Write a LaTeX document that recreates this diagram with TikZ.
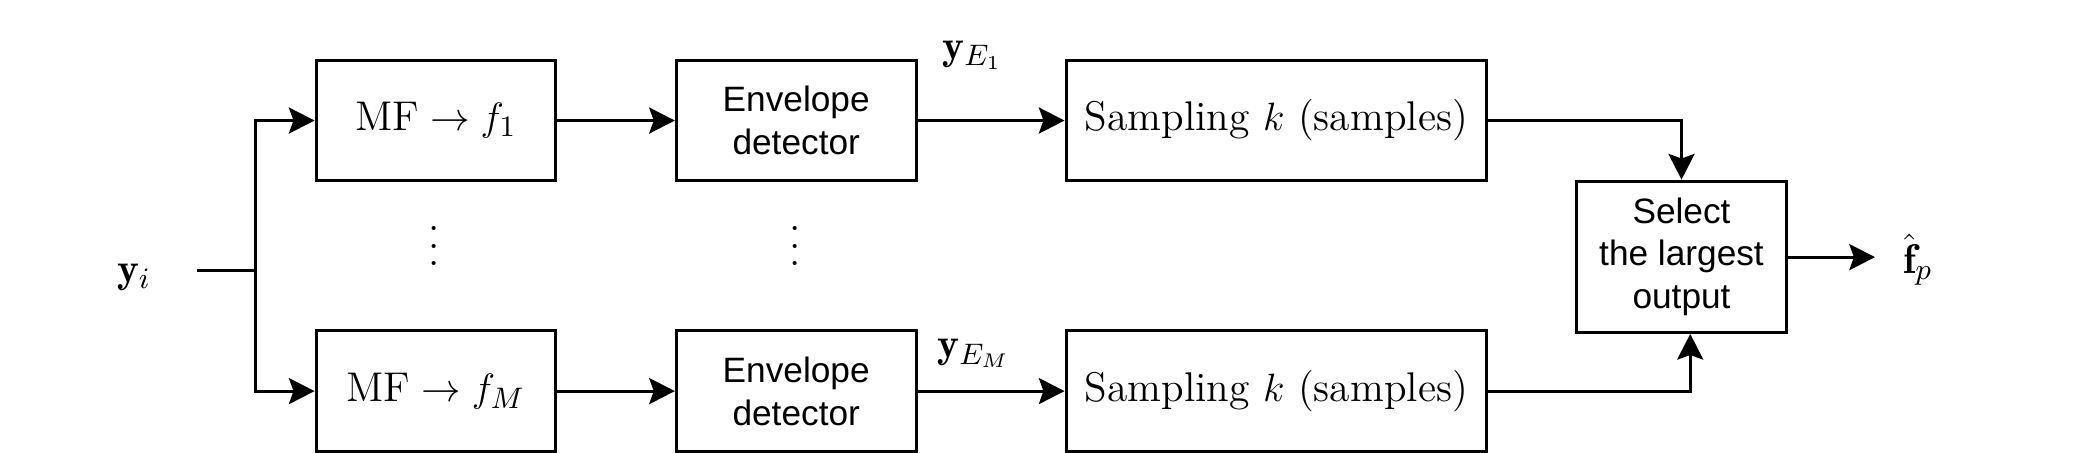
\documentclass[tikz,border=0pt]{standalone}
\usepackage{amsmath,amssymb}
\usepackage{fontspec}
\usepackage{tikz}
\usetikzlibrary{arrows.meta}
\newfontfamily\arialfont{Liberation Sans}
\newcommand{\boxfont}{\arialfont\fontsize{10.7}{13}\selectfont}
\newcommand{\eqfont}{\fontsize{12.6}{15}\selectfont}
\newcommand{\tallvdots}{\vbox{\baselineskip5.3pt\lineskiplimit0pt\hbox{.}\hbox{.}\hbox{.}}}

\begin{document}
\begin{tikzpicture}[x=1cm,y=1cm,font=\eqfont,
  blk/.style={draw,line width=.9pt,minimum height=1.286cm,inner sep=0pt,align=center},
  wire/.style={line width=.9pt},
  arr/.style={wire,-{Stealth[length=7.8pt,width=7.9pt,inset=1.4pt]}}]
  \useasboundingbox (0,0) rectangle (22.4,4.829);
  % upper branch
  \node[blk,minimum width=2.557cm] (mf1) at (4.65,3.543) {$\mathrm{MF}\rightarrow f_1$};
  \node[blk,minimum width=2.557cm,font=\boxfont] (env1) at (8.493,3.543) {Envelope\\detector};
  \node[blk,minimum width=4.486cm] (samp1) at (13.614,3.543) {Sampling $k$ (samples)};
  % lower branch
  \node[blk,minimum width=2.557cm] (mfM) at (4.65,.657) {$\mathrm{MF}\rightarrow f_M$};
  \node[blk,minimum width=2.557cm,font=\boxfont] (envM) at (8.493,.657) {Envelope\\detector};
  \node[blk,minimum width=4.486cm] (sampM) at (13.614,.657) {Sampling $k$ (samples)};
  % decision
  \node[blk,minimum width=2.243cm,minimum height=1.614cm,font=\boxfont] (sel) at (17.936,2.09)
    {Select\\the largest\\output};
  \node (dots1) at (4.629,2.2) {\tallvdots};
  \node (dots2) at (8.486,2.2) {\tallvdots};
  \node (yi) at (1.43,1.871) {$\mathbf{y}_i$};
  \node (yE1) at (10.371,4.243) {$\mathbf{y}_{E_1}$};
  \node (yEM) at (10.386,1.057) {$\mathbf{y}_{E_M}$};
  \node (fp) at (20.457,2.057) {$\hat{\mathbf{f}}_p$};
  \coordinate (yiout) at (2.1,1.943);
  \coordinate (split) at (2.729,1.943);
  \coordinate (fpin) at (20.0,2.086);
  \draw[wire] (yiout) -- (split);
  \draw[arr] (split) |- (mf1.west);
  \draw[arr] (split) |- (mfM.west);
  \draw[arr] (mf1) -- (env1);
  \draw[arr] (env1) -- (samp1);
  \draw[arr] (mfM) -- (envM);
  \draw[arr] (envM) -- (sampM);
  \draw[arr] (samp1.east) -| (sel.north);
  \draw[arr] (sampM.east) -| ([xshift=.093cm]sel.south);
  \draw[arr] (sel.east |- fpin) -- (fpin);
\end{tikzpicture}
\end{document}
